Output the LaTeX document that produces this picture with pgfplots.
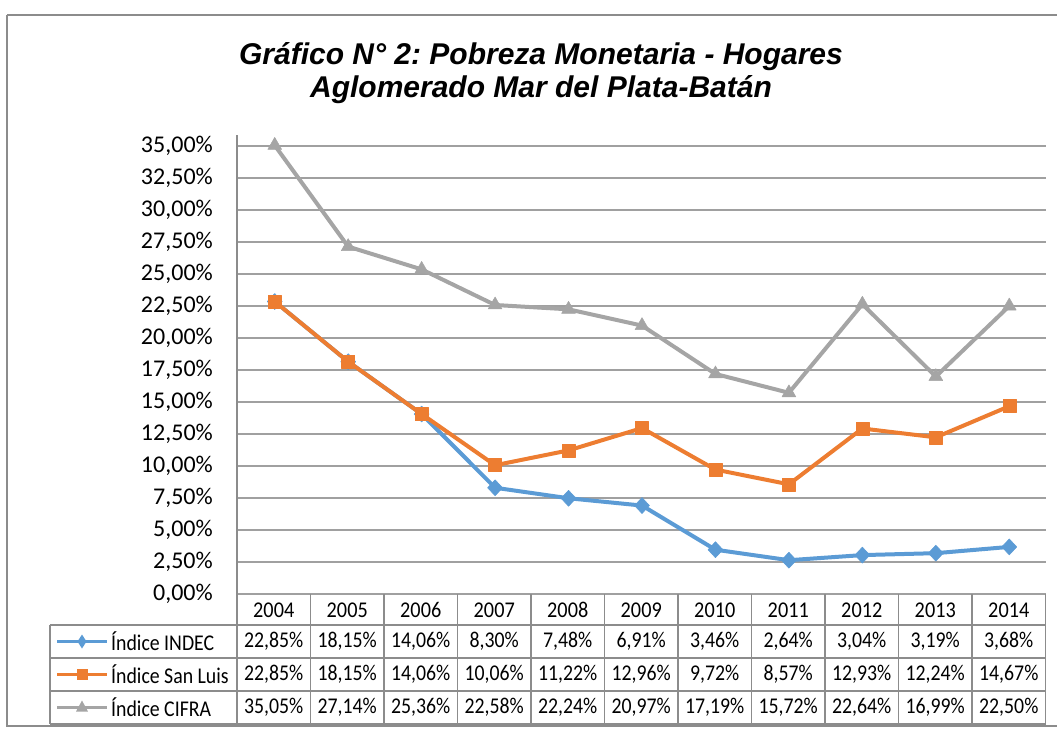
\documentclass[border=0pt]{standalone}
\usepackage{pgfplots}
\pgfplotsset{compat=1.18}
\usepackage{pgfplotstable}
\usepackage{graphicx}
\usepackage{fontspec}
\setmainfont{Carlito}
\newfontfamily\titlefont{Liberation Sans}
\pgfkeys{/pgf/number format/assume math mode=true}
\frenchspacing

\definecolor{cindec}{RGB}{91,155,213}
\definecolor{csanluis}{RGB}{237,125,49}
\definecolor{ccifra}{RGB}{165,165,165}
\definecolor{gridc}{RGB}{160,160,160}
\definecolor{tablec}{RGB}{140,140,140}

% year index, INDEC, San Luis, CIFRA (in %)
\pgfplotstableread{
idx year indec sanluis cifra
0 2004 22.85 22.85 35.05
1 2005 18.15 18.15 27.14
2 2006 14.06 14.06 25.36
3 2007 8.30 10.06 22.58
4 2008 7.48 11.22 22.24
5 2009 6.91 12.96 20.97
6 2010 3.46 9.72 17.19
7 2011 2.64 8.57 15.72
8 2012 3.04 12.93 22.64
9 2013 3.19 12.24 16.99
10 2014 3.68 14.67 22.50
}\datatable

\newcommand{\pct}[1]{\pgfmathprintnumber[fixed,fixed zerofill,precision=2,use comma,assume math mode=true]{#1}\%}

\begin{document}
\begin{tikzpicture}
\begin{axis}[
  at={(238pt,-594pt)}, anchor=south west,
  scale only axis,
  width=808pt, height=459pt,
  xmin=-0.5, xmax=10.5,
  ymin=0, ymax=35.86,
  xtick=\empty,
  ytick={0,2.5,...,35},
  yticklabel={\pct{\tick}},
  yticklabel style={anchor=east, inner sep=0pt, xshift=-25pt,
    font=\fontsize{24}{28}\selectfont},
  /pgf/number format/assume math mode=true,
  major tick length=0pt,
  ymajorgrids,
  grid style={gridc, line width=1.5pt},
  axis line style={draw=none},
  clip=false,
  every axis plot/.append style={line width=4pt, line join=round},
]
\addplot[color=cindec, mark=diamond*, mark size=8pt,
  mark options={solid, fill=cindec, draw=cindec, line width=0.5pt, xscale=1.25}]
  table[x=idx, y=indec] {\datatable};
\addplot[color=csanluis, mark=square*, mark size=6.5pt,
  mark options={solid, fill=csanluis, draw=csanluis, line width=0.5pt}]
  table[x=idx, y=sanluis] {\datatable};
\addplot[color=ccifra, mark=triangle*, mark size=8pt,
  mark options={solid, fill=ccifra, draw=ccifra, line width=0.5pt}]
  table[x=idx, y=cifra] {\datatable};
\end{axis}

\begin{scope}[x=1pt, y=-1pt]
  % outer frame (right edge falls outside the page)
  \draw[tablec, line width=1.3pt] (7,15) -- (1062,15);
  \draw[tablec, line width=1.3pt] (7,15) -- (7,726) -- (1062,726);
  % title
  \node[align=center, font=\titlefont\bfseries\itshape\fontsize{30}{33}\selectfont]
    at (541,73) {Gráfico N° 2: Pobreza Monetaria - Hogares\\Aglomerado Mar del Plata-Batán};
  % left axis line, continued as table border
  \draw[tablec, line width=1.5pt] (237,135) -- (237,724);
  % table grid
  \foreach \k in {1,...,11}
    \draw[tablec, line width=1.5pt] ({237+73.5*\k},594) -- ({237+73.5*\k},724);
  \foreach \yy in {625,658,691,724}
    \draw[tablec, line width=1.5pt] (50,\yy) -- (1046,\yy);
  \draw[tablec, line width=1.5pt] (50,625) -- (50,724);
  % years
  \foreach \k in {0,...,10} {
    \pgfplotstablegetelem{\k}{year}\of\datatable
    \node[font=\fontsize{22.5}{26}\selectfont] at ({237+73.5*(\k+0.5)},610)
      {\scalebox{0.9}[1]{\pgfplotsretval}};
  }
  % values
  \foreach \col/\yy in {indec/641.5, sanluis/674.5, cifra/707.5} {
    \foreach \k in {0,...,10} {
      \pgfplotstablegetelem{\k}{\col}\of\datatable
      \node[font=\fontsize{22.5}{26}\selectfont] at ({237+73.5*(\k+0.5)},\yy)
        {\scalebox{0.88}[1]{\pct{\pgfplotsretval}}};
    }
  }
  % legend keys
  \draw[cindec, line width=3.5pt] (57,641.5) -- (107,641.5);
  \fill[cindec] (82,634.5) -- (86.5,641.5) -- (82,648.5) -- (77.5,641.5) -- cycle;
  \draw[csanluis, line width=3.5pt] (57,674.5) -- (107,674.5);
  \fill[csanluis] (76.5,669) rectangle (87.5,680);
  \draw[ccifra, line width=3.5pt] (57,707.5) -- (107,707.5);
  \fill[ccifra] (82,700.5) -- (88,711.5) -- (76,711.5) -- cycle;
  \foreach \lab/\yy in {Índice INDEC/641.5, Índice San Luis/674.5, Índice CIFRA/707.5}
    \node[anchor=west, inner sep=0pt, font=\fontsize{22.5}{26}\selectfont] at (111,\yy)
      {\scalebox{0.88}[1]{\lab}};
  % page area
  \pgfresetboundingbox
  \path[use as bounding box] (0,0) rectangle (1057,728);
\end{scope}
\end{tikzpicture}
\end{document}
